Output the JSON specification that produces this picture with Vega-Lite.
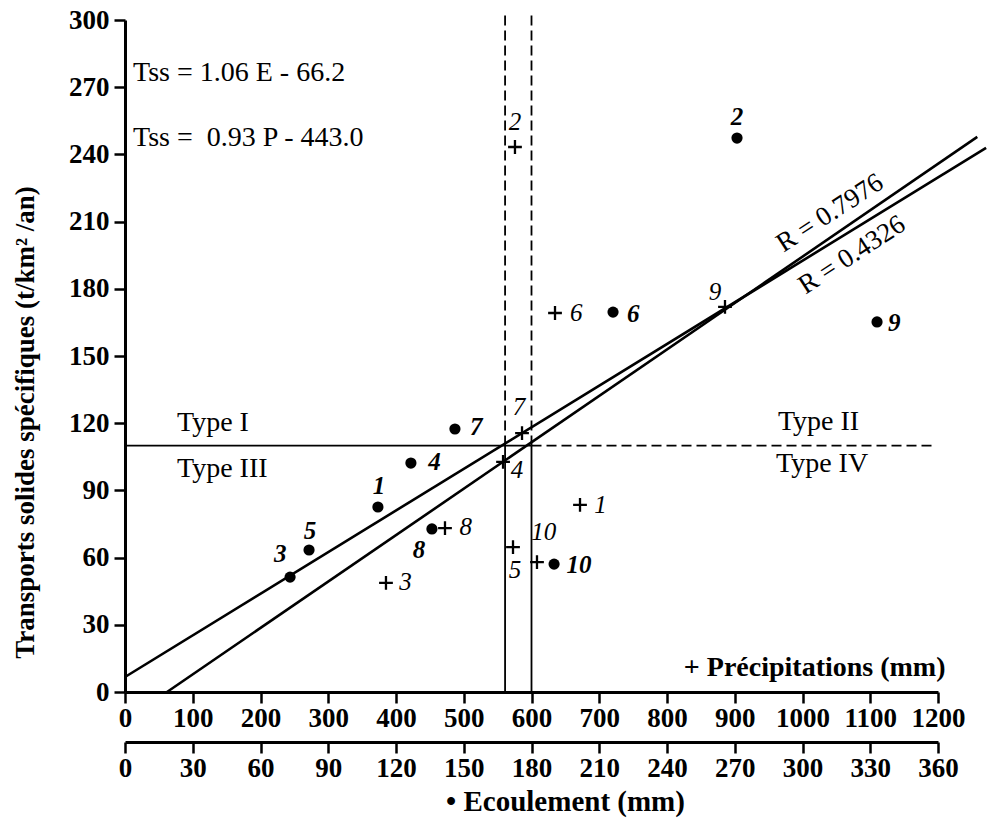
{
  "$schema": "https://vega.github.io/schema/vega-lite/v6.json",
  "autosize": {"type": "none"},
  "width": 813,
  "height": 672,
  "padding": {"left": 125, "top": 20, "right": 52, "bottom": 133},
  "background": "white",
  "config": {
    "view": {"stroke": null},
    "font": "Liberation Serif",
    "axis": {
      "grid": false,
      "domainColor": "black",
      "domainWidth": 3,
      "tickColor": "black",
      "tickWidth": 2.5,
      "tickSize": 11,
      "labelFont": "Liberation Serif",
      "labelFontWeight": "bold",
      "labelFontSize": 27,
      "labelColor": "black",
      "labelFlush": false,
      "labelOverlap": false,
      "labelPadding": 2,
      "format": "d",
      "titleFont": "Liberation Serif",
      "titleFontWeight": "bold",
      "titleFontSize": 27,
      "titleColor": "black"
    }
  },
  "datasets": {
    "guides": [
      {"P": 561, "T": 0, "P2": 561, "T2": 110, "dash": "solid"},
      {"P": 561, "T": 110, "P2": 561, "T2": 303, "dash": "dashed"},
      {"P": 600, "T": 0, "P2": 600, "T2": 110, "dash": "solid"},
      {"P": 600, "T": 110, "P2": 600, "T2": 303, "dash": "dashed"},
      {"P": 0, "T": 110, "P2": 600, "T2": 110, "dash": "solid"},
      {"P": 600, "T": 110, "P2": 1195, "T2": 110, "dash": "dashed"}
    ],
    "regressions": [
      {"P": 0, "T": 6.7, "P2": 1271, "T2": 242.9, "R": "0.4326"},
      {"P": 62, "T": 0, "P2": 1258, "T2": 247.8, "R": "0.7976"}
    ],
    "precip": [
      {"station": "1", "P": 671.6, "T": 83.5},
      {"station": "2", "P": 575.6, "T": 243.3},
      {"station": "3", "P": 385.2, "T": 48.7},
      {"station": "4", "P": 558, "T": 102.7},
      {"station": "5", "P": 572.7, "T": 64.7},
      {"station": "6", "P": 634.7, "T": 169.2},
      {"station": "7", "P": 586, "T": 115.6},
      {"station": "8", "P": 472.3, "T": 73.2},
      {"station": "9", "P": 885.6, "T": 171.9},
      {"station": "10", "P": 608.1, "T": 58.0}
    ],
    "precipLabels": [
      {"label": "1", "P": 702, "T": 83.5},
      {"label": "2", "P": 575.6, "T": 254.5},
      {"label": "3", "P": 414, "T": 49.1},
      {"label": "4", "P": 578.6, "T": 99.1},
      {"label": "5", "P": 575.6, "T": 54.5},
      {"label": "6", "P": 666, "T": 169.2},
      {"label": "7", "P": 581.5, "T": 127.3},
      {"label": "8", "P": 503, "T": 73.7},
      {"label": "9", "P": 870.8, "T": 178.6},
      {"label": "10", "P": 618, "T": 71.4}
    ],
    "ecoul": [
      {"station": "1", "E": 112.0, "T": 82.6},
      {"station": "2", "E": 271.0, "T": 247.3},
      {"station": "3", "E": 73.1, "T": 51.3},
      {"station": "4", "E": 126.6, "T": 102.2},
      {"station": "5", "E": 81.5, "T": 63.4},
      {"station": "6", "E": 216.1, "T": 169.6},
      {"station": "7", "E": 146.1, "T": 117.4},
      {"station": "8", "E": 135.9, "T": 72.8},
      {"station": "9", "E": 333.0, "T": 165.2},
      {"station": "10", "E": 190.0, "T": 57.1}
    ],
    "ecoulLabels": [
      {"label": "1", "E": 112.5, "T": 92},
      {"label": "2", "E": 271.0, "T": 256.8},
      {"label": "3", "E": 68.7, "T": 61.7},
      {"label": "4", "E": 137, "T": 102.7},
      {"label": "5", "E": 81.9, "T": 72},
      {"label": "6", "E": 225, "T": 168.8},
      {"label": "7", "E": 155.5, "T": 118.3},
      {"label": "8", "E": 130.2, "T": 63.4},
      {"label": "9", "E": 340.6, "T": 164.7},
      {"label": "10", "E": 201, "T": 56.7}
    ],
    "notes": [
      {"text": "Tss = 1.06 E - 66.2", "P": 11.8, "T": 272.8},
      {"text": "Tss = \u00a00.93 P - 443.0", "P": 11.8, "T": 243.7},
      {"text": "Type I", "P": 76.8, "T": 116.5},
      {"text": "Type III", "P": 76.8, "T": 96.0},
      {"text": "Type II", "P": 963.8, "T": 117.0},
      {"text": "Type IV", "P": 960.9, "T": 98.2}
    ],
    "rlabels": [
      {"text": "R = 0.7976", "P": 1040.6, "T": 213.8},
      {"text": "R = 0.4326", "P": 1073, "T": 195.1}
    ]
  },
  "layer": [
    {
      "layer": [
        {
          "data": {"name": "guides"},
          "mark": {"type": "rule", "color": "black", "strokeWidth": 1.8},
          "encoding": {
            "x": {
              "field": "P", "type": "quantitative",
              "scale": {"domain": [0, 1200], "nice": false, "zero": false},
              "axis": {
                "orient": "bottom",
                "values": [0, 100, 200, 300, 400, 500, 600, 700, 800, 900, 1000, 1100, 1200],
                "title": "+ Précipitations (mm)",
                "titleX": 820,
                "titleY": -17,
                "titleAlign": "right",
                "titleAnchor": null,
                "titleBaseline": "alphabetic",
                "titleFontSize": 28
              }
            },
            "x2": {"field": "P2"},
            "y": {
              "field": "T", "type": "quantitative",
              "scale": {"domain": [0, 300], "nice": false},
              "axis": {
                "values": [0, 30, 60, 90, 120, 150, 180, 210, 240, 270, 300],
                "title": "Transports solides spécifiques (t/km² /an)",
                "titleX": -100,
                "titleY": 402,
                "titleAngle": 270,
                "titleAlign": "center",
                "titleBaseline": "middle",
                "labelPadding": 5
              }
            },
            "y2": {"field": "T2"},
            "strokeDash": {
              "field": "dash", "type": "nominal",
              "scale": {"domain": ["solid", "dashed"], "range": [[1, 0], [10, 5]]},
              "legend": null
            }
          }
        },
        {
          "data": {"name": "regressions"},
          "mark": {"type": "rule", "color": "black", "strokeWidth": 2.6},
          "encoding": {
            "x": {"field": "P", "type": "quantitative"},
            "x2": {"field": "P2"},
            "y": {"field": "T", "type": "quantitative"},
            "y2": {"field": "T2"}
          }
        },
        {
          "data": {"name": "precip"},
          "mark": {"type": "point", "shape": "M-1,0H1M0,-1V1", "size": 190, "filled": false, "stroke": "black", "strokeWidth": 2.3, "opacity": 1},
          "encoding": {
            "x": {"field": "P", "type": "quantitative"},
            "y": {"field": "T", "type": "quantitative"}
          }
        },
        {
          "data": {"name": "precipLabels"},
          "mark": {"type": "text", "font": "Liberation Serif", "fontStyle": "italic", "fontSize": 25, "color": "black", "align": "center", "baseline": "middle"},
          "encoding": {
            "x": {"field": "P", "type": "quantitative"},
            "y": {"field": "T", "type": "quantitative"},
            "text": {"field": "label"}
          }
        },
        {
          "data": {"name": "notes"},
          "mark": {"type": "text", "font": "Liberation Serif", "fontSize": 28, "color": "black", "align": "left", "baseline": "alphabetic"},
          "encoding": {
            "x": {"field": "P", "type": "quantitative"},
            "y": {"field": "T", "type": "quantitative"},
            "text": {"field": "text"}
          }
        },
        {
          "data": {"name": "rlabels"},
          "mark": {"type": "text", "font": "Liberation Serif", "fontSize": 27, "color": "black", "align": "center", "baseline": "middle", "angle": -33},
          "encoding": {
            "x": {"field": "P", "type": "quantitative"},
            "y": {"field": "T", "type": "quantitative"},
            "text": {"field": "text"}
          }
        }
      ]
    },
    {
      "layer": [
        {
          "data": {"name": "ecoul"},
          "mark": {"type": "point", "shape": "circle", "size": 125, "filled": true, "color": "black", "opacity": 1},
          "encoding": {
            "x": {
              "field": "E", "type": "quantitative",
              "scale": {"domain": [0, 360], "nice": false, "zero": false},
              "axis": {
                "orient": "bottom",
                "offset": 50,
                "values": [0, 30, 60, 90, 120, 150, 180, 210, 240, 270, 300, 330, 360],
                "title": "• Ecoulement (mm)",
                "titleX": 440,
                "titleY": 68,
                "titleAlign": "center",
                "titleAnchor": null,
                "titleBaseline": "alphabetic",
                "titleFontSize": 29
              }
            },
            "y": {"field": "T", "type": "quantitative"}
          }
        },
        {
          "data": {"name": "ecoulLabels"},
          "mark": {"type": "text", "font": "Liberation Serif", "fontStyle": "italic", "fontWeight": "bold", "fontSize": 25, "color": "black", "align": "center", "baseline": "middle"},
          "encoding": {
            "x": {"field": "E", "type": "quantitative"},
            "y": {"field": "T", "type": "quantitative"},
            "text": {"field": "label"}
          }
        }
      ]
    }
  ],
  "resolve": {"scale": {"x": "independent"}, "axis": {"x": "independent"}}
}
